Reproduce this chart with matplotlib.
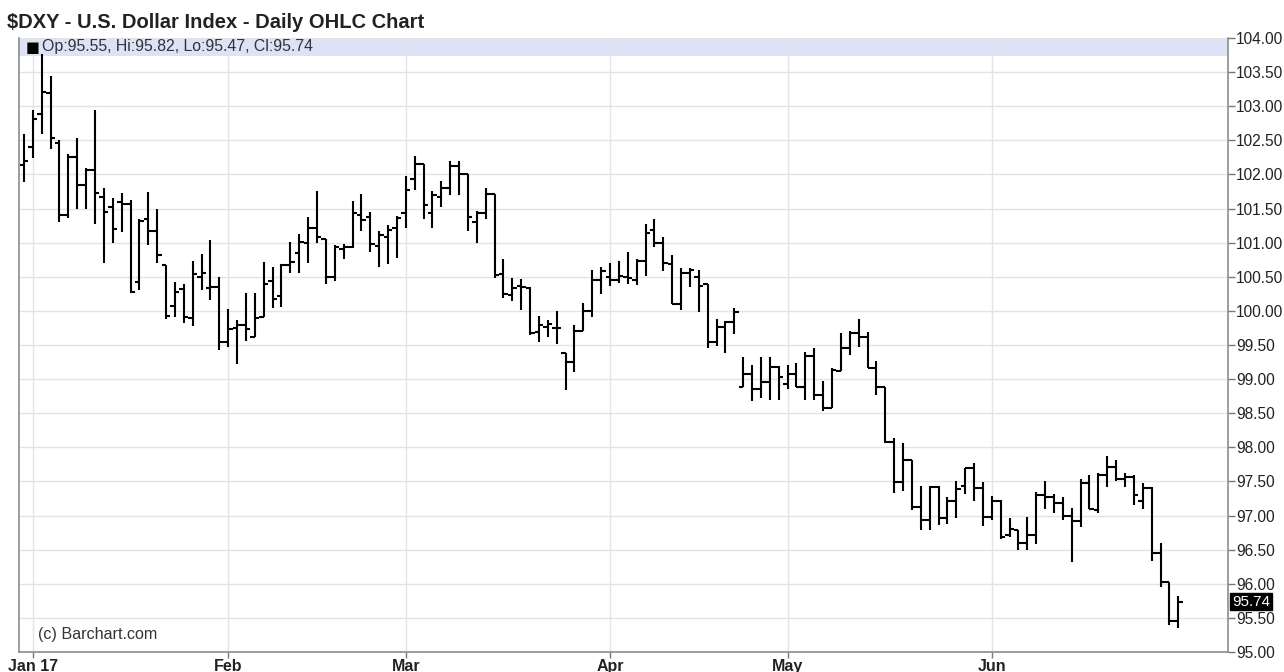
import matplotlib
matplotlib.use("Agg")
import matplotlib.pyplot as plt
import pandas as pd

# ---- data ----
start_date = "2016-12-30"
end_date = "2017-06-30"

opens = [102.14, 102.40, 102.88, 103.19, 102.46, 101.40, 102.25, 101.84, 102.06, 101.67,
         101.53, 101.60, 101.56, 100.43, 101.35, 101.17, 100.67, 100.07, 100.32, 99.90,
         100.49, 100.34, 100.35, 99.55, 99.75, 99.79, 99.62, 99.91, 100.44, 100.22,
         100.67, 100.85, 100.99, 101.22, 101.05, 100.50, 100.90, 100.93, 101.40, 101.38,
         100.95, 101.08, 101.21, 101.44, 101.93, 102.15, 101.44, 101.67, 101.80, 102.12,
         102.01, 101.31, 101.44, 101.71, 100.54, 100.23, 100.37, 100.34, 99.69, 99.77,
         99.75, 99.38, 99.25, 99.71, 100.00, 100.45, 100.50, 100.45, 100.50, 100.46,
         100.73, 101.18, 100.99, 100.68, 100.10, 100.55, 100.50, 100.39, 99.55, 99.77,
         99.84, 98.89, 99.07, 98.85, 98.96, 99.18, 98.93, 99.07, 98.89, 99.34,
         98.76, 98.58, 99.12, 99.45, 99.68, 99.62, 99.16, 98.88, 98.08, 97.49,
         97.82, 97.12, 96.93, 97.42, 96.97, 97.22, 97.43, 97.69, 97.41, 96.98,
         97.22, 96.71, 96.79, 96.60, 96.71, 97.30, 97.27, 97.19, 96.99, 96.92,
         97.47, 97.08, 97.59, 97.71, 97.53, 97.56, 97.21, 97.41, 96.45, 96.03,
         95.45]
highs = [102.60, 102.94, 103.77, 103.44, 102.51, 102.30, 102.53, 102.10, 102.95, 101.80,
         101.66, 101.73, 101.62, 101.34, 101.74, 101.49, 100.67, 100.43, 100.40, 100.73,
         100.83, 101.04, 100.50, 100.03, 99.87, 100.26, 100.26, 100.72, 100.64, 100.69,
         101.01, 101.12, 101.38, 101.76, 101.05, 100.97, 100.98, 101.61, 101.72, 101.45,
         101.17, 101.26, 101.39, 101.98, 102.27, 102.16, 101.76, 101.91, 102.19, 102.20,
         102.01, 101.46, 101.80, 101.71, 100.76, 100.48, 100.47, 100.35, 99.93, 99.87,
         100.00, 99.38, 99.79, 100.12, 100.60, 100.65, 100.70, 100.73, 100.86, 100.76,
         101.27, 101.35, 101.09, 100.82, 100.63, 100.63, 100.60, 100.40, 99.88, 99.85,
         100.04, 99.33, 99.21, 99.32, 99.32, 99.19, 99.21, 99.23, 99.40, 99.45,
         98.97, 99.17, 99.67, 99.71, 99.88, 99.69, 99.27, 98.88, 98.13, 98.07,
         97.82, 97.43, 97.43, 97.43, 97.27, 97.51, 97.70, 97.77, 97.49, 97.28,
         97.23, 96.96, 96.79, 96.98, 97.35, 97.51, 97.32, 97.27, 97.11, 97.54,
         97.59, 97.62, 97.87, 97.81, 97.63, 97.59, 97.47, 97.42, 96.60, 96.03,
         95.82]
lows = [101.89, 102.24, 102.59, 102.38, 101.30, 101.36, 101.50, 101.50, 101.28, 100.70,
        101.00, 101.16, 100.26, 100.30, 100.97, 100.70, 99.88, 99.91, 99.82, 99.78,
        100.30, 100.16, 99.43, 99.47, 99.22, 99.56, 99.62, 99.91, 100.04, 100.06,
        100.56, 100.56, 100.70, 101.00, 100.40, 100.44, 100.76, 100.92, 101.17, 100.87,
        100.65, 100.69, 100.78, 101.22, 101.77, 101.34, 101.21, 101.52, 101.70, 101.70,
        101.17, 101.00, 101.34, 100.48, 100.19, 100.14, 100.01, 99.65, 99.54, 99.62,
        99.51, 98.84, 99.10, 99.71, 99.91, 100.25, 100.36, 100.41, 100.39, 100.38,
        100.51, 100.93, 100.58, 100.10, 100.01, 100.35, 99.99, 99.45, 99.48, 99.38,
        99.66, 98.89, 98.68, 98.72, 98.70, 98.70, 98.86, 98.88, 98.70, 98.70,
        98.53, 98.57, 99.12, 99.35, 99.47, 99.16, 98.77, 98.07, 97.33, 97.36,
        97.08, 96.79, 96.79, 96.86, 96.88, 96.97, 97.31, 97.22, 96.85, 96.93,
        96.65, 96.68, 96.50, 96.50, 96.58, 97.10, 97.04, 96.93, 96.32, 96.83,
        97.09, 97.04, 97.42, 97.50, 97.42, 97.16, 97.10, 96.34, 95.95, 95.39,
        95.35]
closes = [102.20, 102.81, 103.21, 102.53, 101.40, 102.25, 101.84, 102.06, 101.73, 101.45,
          101.20, 101.57, 100.28, 101.32, 101.17, 100.82, 99.92, 100.27, 99.91, 100.54,
          100.55, 100.35, 99.55, 99.73, 99.80, 99.73, 99.89, 100.40, 100.17, 100.67,
          100.71, 101.01, 101.22, 101.09, 100.50, 100.94, 100.93, 101.44, 101.33, 100.98,
          101.11, 101.18, 101.36, 101.77, 102.15, 101.55, 101.70, 101.80, 102.13, 102.01,
          101.38, 101.43, 101.71, 100.53, 100.25, 100.33, 100.35, 99.68, 99.79, 99.81,
          99.75, 99.25, 99.71, 100.00, 100.46, 100.59, 100.46, 100.51, 100.48, 100.73,
          101.14, 100.99, 100.70, 100.10, 100.55, 100.60, 100.37, 99.55, 99.77, 99.84,
          99.98, 99.07, 98.85, 98.96, 99.18, 99.03, 99.07, 98.89, 99.34, 98.76,
          98.58, 99.13, 99.45, 99.68, 99.62, 99.16, 98.88, 98.08, 97.49, 97.82,
          97.12, 96.93, 97.42, 96.97, 97.22, 97.39, 97.69, 97.41, 96.98, 97.22,
          96.68, 96.80, 96.60, 96.71, 97.30, 97.27, 97.19, 96.99, 96.92, 97.47,
          97.10, 97.59, 97.71, 97.53, 97.56, 97.30, 97.41, 96.45, 96.03, 95.45,
          95.74]

month_labels = ["Jan 17", "Feb", "Mar", "Apr", "May", "Jun"]
y_ticks = [95.0 + 0.5 * k for k in range(19)]

title_text = "$DXY - U.S. Dollar Index - Daily OHLC Chart"
legend_text = "Op:95.55, Hi:95.82, Lo:95.47, Cl:95.74"
last_label = "95.74"
credit_text = "(c) Barchart.com"

# ---- figure ----
W, H = 1284, 672
fig = plt.figure(figsize=(W / 100, H / 100), dpi=100)
fig.patch.set_facecolor("white")
plt.rcParams["font.family"] = ["Liberation Sans", "DejaVu Sans"]

L, R, T, B = 19, 1228, 38, 652
ax = fig.add_axes([L / W, 1 - B / H, (R - L) / W, (B - T) / H])

dates = pd.bdate_range(start_date, end_date)
n = len(opens)
xs = list(range(n))

# month tick positions: first bar of each month (excluding the first partial month)
month_pos = []
prev = None
for i, d in enumerate(dates[:n]):
    if prev is not None and d.month != prev:
        month_pos.append(i)
    prev = d.month

half = 0.5
for x, o, h, l, c in zip(xs, opens, highs, lows, closes):
    ax.plot([x, x], [l, h], color="black", lw=1.5, solid_capstyle="butt")
    ax.plot([x - half, x], [o, o], color="black", lw=1.5, solid_capstyle="butt")
    ax.plot([x, x + half], [c, c], color="black", lw=1.5, solid_capstyle="butt")

ax.set_xlim(-0.56, 135.6)
ax.set_ylim(95.0, 104.0)

# header band
ax.axhspan(103.735, 104.0, color="#dde2f7", zorder=0.5, lw=0)

ax.set_yticks(y_ticks)
ax.set_yticklabels([f"{v:.2f}" for v in y_ticks])
ax.yaxis.tick_right()
ax.tick_params(axis="y", which="both", direction="out", length=5, width=1,
               colors="#777777", labelcolor="#222222", labelsize=11.2, pad=1)

ax.set_xticks(month_pos)
ax.set_xticklabels(month_labels[:len(month_pos)], fontweight="bold")
ax.tick_params(axis="x", direction="out", length=4, width=1, colors="#777777",
               labelcolor="#222222", labelsize=11.5, pad=1)

ax.grid(True, color="#e3e3e3", lw=1)
ax.set_axisbelow(True)
for side in ["left", "right", "bottom"]:
    ax.spines[side].set_color("#8c8c8c")
    ax.spines[side].set_linewidth(1.2)
ax.spines["top"].set_visible(False)

# texts
fig.text(7 / W, 1 - 22 / H, title_text.replace("$", r"\$"), fontsize=14.5,
         fontweight="bold", color="#222222", va="center", ha="left")
fig.text(26 / W, 1 - 47 / H, "\u25A0", fontsize=10.5, color="black",
         va="center", ha="left", family="DejaVu Sans")
fig.text(42 / W, 1 - 47 / H, legend_text, fontsize=11.4, color="#333333",
         va="center", ha="left")
fig.text(38 / W, 1 - 635 / H, credit_text, fontsize=11.6, color="#333333",
         va="center", ha="left")

# last price label
ax.annotate(last_label, xy=(1.0, closes[-1]), xycoords=("axes fraction", "data"),
            xytext=(4, 0), textcoords="offset pixels", va="center", ha="left",
            fontsize=11, color="white",
            bbox=dict(boxstyle="square,pad=0.1", fc="black", ec="black"))

fig.savefig("out.png", dpi=100, facecolor="white")
